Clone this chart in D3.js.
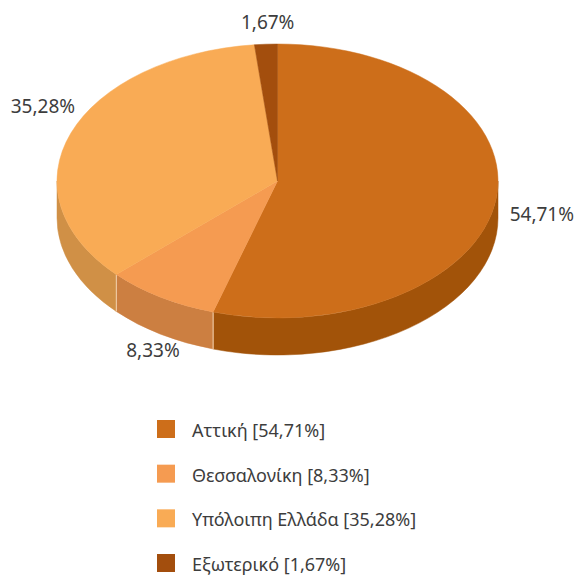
<!DOCTYPE html>
<html>
<head>
<meta charset="utf-8">
<script src="https://cdn.jsdelivr.net/npm/d3@7"></script>
<style>
  html, body { margin: 0; padding: 0; background: #fff; }
  svg { display: block; font-family: "Noto Sans", "Open Sans", sans-serif; }
</style>
</head>
<body>
<div id="chart"></div>
<script>
// 3D pie - share per region

const regions = ["Αττική", "Θεσσαλονίκη", "Υπόλοιπη Ελλάδα", "Εξωτερικό"];
const shares = [54.71, 8.33, 35.28, 1.67];

const topColors = ["#cd6e1a", "#f59b51", "#f9ab55", "#a34e0d"];
const sideColors = ["#a25309", "#cc7f41", "#d09046", "#8a420b"];

const width = 579;
const height = 579;

const cx = 277.5, cy = 181;
const rx = 220.5, ry = 137;
const depth = 37;

const fmt = v => v.toFixed(2).replace(".", ",") + "%";

const svg = d3.select("#chart")
    .append("svg")
    .attr("width", width)
    .attr("height", height);

const data = regions.map((r, i) => ({name: r, value: shares[i], i: i}));

const arcs = d3.pie()
    .sort(null)
    .value(d => d.value)
    .startAngle(0)
    .endAngle(2 * Math.PI)(data);

// point on the projected ellipse, angle clockwise from top
const pt = (a, dy = 0) => [cx + rx * Math.sin(a), cy - ry * Math.cos(a) + dy];

function topPath(a0, a1) {
    const p0 = pt(a0), p1 = pt(a1);
    const large = (a1 - a0) > Math.PI ? 1 : 0;
    return `M${cx},${cy}L${p0}A${rx},${ry} 0 ${large} 1 ${p1}Z`;
}

function sidePath(a0, a1) {
    const s0 = Math.max(a0, Math.PI / 2);
    const s1 = Math.min(a1, 3 * Math.PI / 2);
    if (s0 >= s1) return null;
    const p0 = pt(s0), p1 = pt(s1);
    const q0 = pt(s0, depth), q1 = pt(s1, depth);
    return `M${p0}A${rx},${ry} 0 0 1 ${p1}L${q1}A${rx},${ry} 0 0 0 ${q0}Z`;
}

const pie = svg.append("g");

// outer walls
pie.selectAll("path.side")
    .data(arcs.filter(d => sidePath(d.startAngle, d.endAngle)))
    .join("path")
    .attr("class", "side")
    .attr("d", d => sidePath(d.startAngle, d.endAngle))
    .attr("fill", d => sideColors[d.data.i])
    .attr("stroke", d => sideColors[d.data.i])
    .attr("stroke-width", 0.5);

// light seams where walls meet
pie.selectAll("line.seam")
    .data(arcs.filter(d => d.endAngle > Math.PI / 2 && d.endAngle < 3 * Math.PI / 2))
    .join("line")
    .attr("class", "seam")
    .attr("x1", d => pt(d.endAngle)[0])
    .attr("y1", d => pt(d.endAngle)[1])
    .attr("x2", d => pt(d.endAngle, depth)[0])
    .attr("y2", d => pt(d.endAngle, depth)[1])
    .attr("stroke", "#f3d2b0")
    .attr("stroke-width", 1);

// top faces
pie.selectAll("path.top")
    .data(arcs)
    .join("path")
    .attr("class", "top")
    .attr("d", d => topPath(d.startAngle, d.endAngle))
    .attr("fill", d => topColors[d.data.i])
    .attr("stroke", d => topColors[d.data.i])
    .attr("stroke-width", 0.5);

// slice labels on a wider ring around the pie, along the mid angle
const tilt = 0.85;
const labelA = rx + 45, labelB = ry + 22;

svg.append("g")
    .selectAll("text")
    .data(arcs)
    .join("text")
    .attr("font-size", 19)
    .attr("fill", "#3d3d3d")
    .attr("text-anchor", "middle")
    .attr("dy", "0.35em")
    .each(function(d) {
        const a = (d.startAngle + d.endAngle) / 2;
        let dx = Math.sin(a), dy = -Math.cos(a) * tilt;
        const n = Math.hypot(dx, dy);
        dx /= n; dy /= n;
        let r = 1 / Math.hypot(dx / labelA, dy / labelB);
        if (dy > 0) r += depth * dy;
        d3.select(this)
            .attr("x", cx + dx * r)
            .attr("y", cy + dy * r);
    })
    .text(d => fmt(d.data.value));

// legend
const legendY = d3.scaleLinear()
    .domain([0, regions.length - 1])
    .range([420, 554]);

const legend = svg.append("g")
    .selectAll("g")
    .data(data)
    .join("g")
    .attr("transform", (d, i) => `translate(157, ${legendY(i)})`);

legend.append("rect")
    .attr("width", 18)
    .attr("height", 18)
    .attr("fill", d => topColors[d.i]);

legend.append("text")
    .attr("x", 35)
    .attr("y", 17)
    .attr("font-size", 18)
    .attr("fill", "#3d3d3d")
    .text(d => `${d.name} [${fmt(d.value)}]`);
</script>
</body>
</html>
